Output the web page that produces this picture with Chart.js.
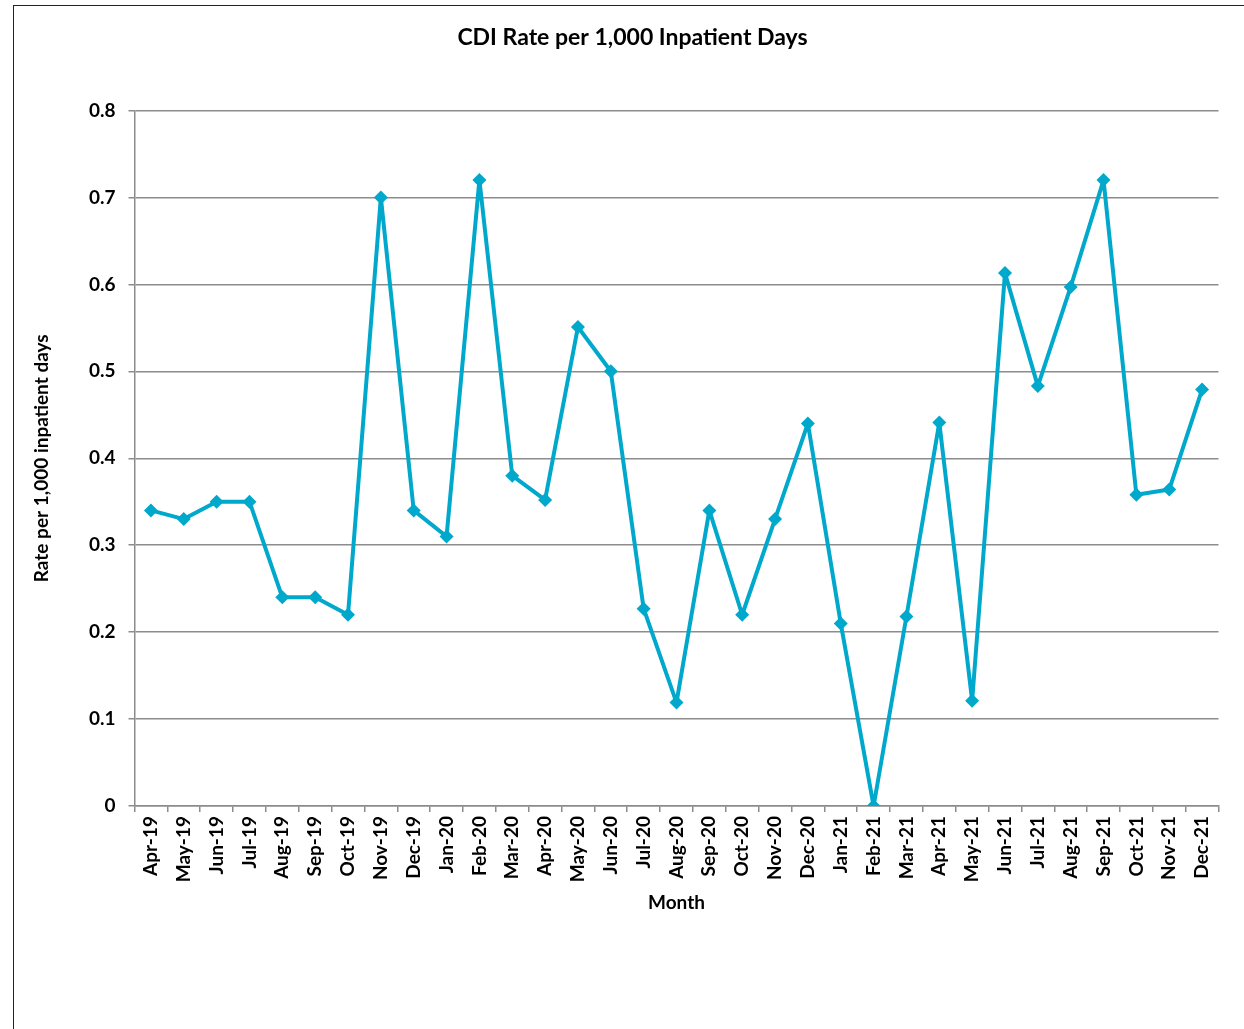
<!DOCTYPE html>
<html>
<head>
<meta charset="utf-8">
<script src="https://cdn.jsdelivr.net/npm/chart.js@4.4.0/dist/chart.umd.min.js"></script>
<style>
    html, body { margin: 0; padding: 0; background: #fff; overflow: hidden; }
    #frame {
        position: absolute; left: 13px; top: 5px;
        width: 1240px; height: 1030px;
        border: 1.5px solid #222; box-sizing: border-box;
    }
    #frame canvas { display: block; }
</style>
</head>
<body>
<div id="frame"><canvas id="cdiChart" width="1237" height="1027"></canvas></div>
<script>
// Months on the x axis
const months = [
    'Apr-19', 'May-19', 'Jun-19', 'Jul-19', 'Aug-19', 'Sep-19', 'Oct-19', 'Nov-19', 'Dec-19',
    'Jan-20', 'Feb-20', 'Mar-20', 'Apr-20', 'May-20', 'Jun-20', 'Jul-20', 'Aug-20', 'Sep-20',
    'Oct-20', 'Nov-20', 'Dec-20', 'Jan-21', 'Feb-21', 'Mar-21', 'Apr-21', 'May-21', 'Jun-21',
    'Jul-21', 'Aug-21', 'Sep-21', 'Oct-21', 'Nov-21', 'Dec-21'
];

// CDI rate per 1,000 inpatient days
const cdiRate = [
    0.34, 0.33, 0.35, 0.35, 0.24, 0.24, 0.22, 0.70, 0.34,
    0.31, 0.72, 0.38, 0.352, 0.551, 0.50, 0.227, 0.119, 0.34,
    0.22, 0.33, 0.44, 0.21, 0.0, 0.218, 0.441, 0.121, 0.613,
    0.483, 0.597, 0.72, 0.358, 0.364, 0.479
];

const yTicks = [0, 0.1, 0.2, 0.3, 0.4, 0.5, 0.6, 0.7, 0.8];

const FONT = "Lato, 'Open Sans', sans-serif";
const LINE_COLOR = '#00a8cc';
const GRID_COLOR = '#8c8c8c';

Chart.defaults.font.family = FONT;
Chart.defaults.color = '#000';

const ctx = document.getElementById('cdiChart').getContext('2d');
new Chart(ctx, {
    type: 'line',
    data: {
        labels: months,
        datasets: [{
            label: 'CDI Rate',
            data: cdiRate,
            yAxisID: 'y',
            borderColor: LINE_COLOR,
            backgroundColor: LINE_COLOR,
            borderWidth: 4,
            borderJoinStyle: 'round',
            pointStyle: 'rectRot',
            pointRadius: 7,
            pointBorderWidth: 0,
            tension: 0
        }]
    },
    options: {
        responsive: false,
        animation: false,
        layout: { padding: 0 },
        plugins: {
            legend: { display: false },
            tooltip: { enabled: false },
            title: {
                display: true,
                text: 'CDI Rate per 1,000 Inpatient Days',
                font: { size: 23, weight: 'bold' },
                color: '#000',
                padding: { top: 17.7, bottom: 59.2 }
            }
        },
        scales: {
            x: {
                offset: true,
                grid: {
                    display: true,
                    offset: true,
                    drawOnChartArea: false,
                    drawTicks: true,
                    tickLength: 6,
                    color: GRID_COLOR,
                    lineWidth: 1.5
                },
                border: { display: true, color: GRID_COLOR, width: 1.5 },
                ticks: {
                    autoSkip: false,
                    minRotation: 90,
                    maxRotation: 90,
                    padding: 4,
                    font: { size: 19, weight: 'bold' },
                    color: '#000'
                },
                title: {
                    display: true,
                    text: 'Month',
                    font: { size: 19, weight: 'bold' },
                    color: '#000',
                    padding: { top: 0, bottom: 119 }
                },
                afterFit: (scale) => { scale.height = 227; }
            },
            y: {
                min: 0,
                max: 0.8,
                afterBuildTicks: (scale) => { scale.ticks = yTicks.map(v => ({ value: v })); },
                grid: {
                    color: GRID_COLOR,
                    lineWidth: 1.5,
                    drawTicks: true,
                    tickLength: 6
                },
                border: { display: true, color: GRID_COLOR, width: 1.5 },
                ticks: {
                    padding: 13,
                    font: { size: 19, weight: 'bold' },
                    color: '#000',
                    callback: (v) => v === 0 ? '0' : v.toFixed(1)
                },
                title: {
                    display: true,
                    text: 'Rate per 1,000 inpatient days',
                    font: { size: 19, weight: 'bold' },
                    color: '#000',
                    padding: { top: 16, bottom: 0 }
                },
                afterFit: (scale) => { scale.width = 120.5; }
            },
            // empty right-hand spacer so the title stays centred on the whole frame
            spacer: {
                position: 'right',
                min: 0,
                max: 1,
                grid: { display: false },
                border: { display: false },
                ticks: { display: false },
                afterFit: (scale) => { scale.width = 32.5; }
            }
        }
    }
});
</script>
</body>
</html>
